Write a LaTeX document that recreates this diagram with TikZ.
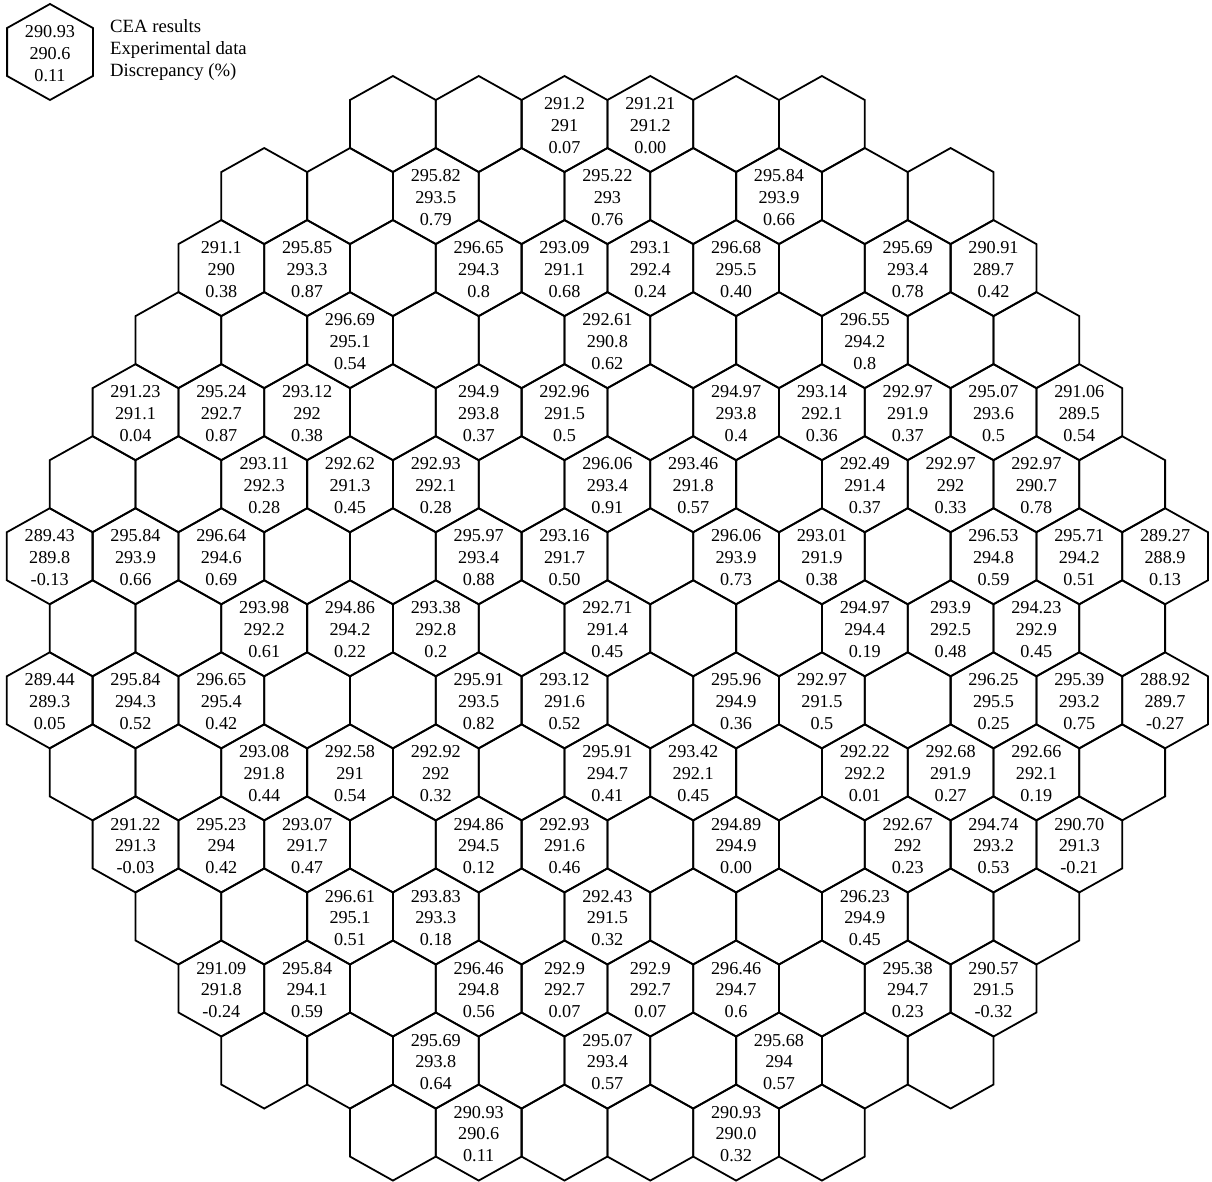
\documentclass[tikz,border=0pt]{standalone}
\usepackage{fontspec}
\setmainfont{Liberation Serif}
\begin{document}
\begin{tikzpicture}[x=1pt,y=-1pt,
  hexline/.style={draw=black,line width=1.8pt},
  lab/.style={align=center,inner sep=0pt,font=\fontsize{18.2}{21.8}\selectfont},
  legtext/.style={align=left,anchor=west,inner sep=0pt,font=\fontsize{18.7}{21.6}\selectfont}]
\useasboundingbox (0,0) rectangle (1212,1182);
\def\hexat#1#2{\draw[hexline] (#1,#2) ++(0,-48) -- ++(42.9,24) -- ++(0,48) -- ++(-42.9,24) -- ++(-42.9,-24) -- ++(0,-48) -- cycle;}
% grid of hexagons
\foreach \r/\a/\b in {0/8/18,1/5/21,2/4/22,3/3/23,4/2/24,5/1/25,6/0/26,7/1/25,8/0/26,9/1/25,10/2/24,11/3/23,12/4/22,13/5/21,14/8/18} {
  \pgfmathtruncatemacro\cc{\a+2}
  \foreach \h in {\a,\cc,...,\b} {
    \pgfmathsetmacro\xx{49.7+42.9*\h}
    \pgfmathsetmacro\yy{124+72.04*\r}
    \hexat{\xx}{\yy}
  }
}
% labels
\foreach \r/\h/\p/\q/\s in {
 0/12/291.2/291/0.07, 0/14/291.21/291.2/0.00,
 1/9/295.82/293.5/0.79, 1/13/295.22/293/0.76, 1/17/295.84/293.9/0.66,
 2/4/291.1/290/0.38, 2/6/295.85/293.3/0.87, 2/10/296.65/294.3/0.8, 2/12/293.09/291.1/0.68,
 2/14/293.1/292.4/0.24, 2/16/296.68/295.5/0.40, 2/20/295.69/293.4/0.78, 2/22/290.91/289.7/0.42,
 3/7/296.69/295.1/0.54, 3/13/292.61/290.8/0.62, 3/19/296.55/294.2/0.8,
 4/2/291.23/291.1/0.04, 4/4/295.24/292.7/0.87, 4/6/293.12/292/0.38, 4/10/294.9/293.8/0.37,
 4/12/292.96/291.5/0.5, 4/16/294.97/293.8/0.4, 4/18/293.14/292.1/0.36, 4/20/292.97/291.9/0.37,
 4/22/295.07/293.6/0.5, 4/24/291.06/289.5/0.54,
 5/5/293.11/292.3/0.28, 5/7/292.62/291.3/0.45, 5/9/292.93/292.1/0.28, 5/13/296.06/293.4/0.91,
 5/15/293.46/291.8/0.57, 5/19/292.49/291.4/0.37, 5/21/292.97/292/0.33, 5/23/292.97/290.7/0.78,
 6/0/289.43/289.8/-0.13, 6/2/295.84/293.9/0.66, 6/4/296.64/294.6/0.69, 6/10/295.97/293.4/0.88,
 6/12/293.16/291.7/0.50, 6/16/296.06/293.9/0.73, 6/18/293.01/291.9/0.38, 6/22/296.53/294.8/0.59,
 6/24/295.71/294.2/0.51, 6/26/289.27/288.9/0.13,
 7/5/293.98/292.2/0.61, 7/7/294.86/294.2/0.22, 7/9/293.38/292.8/0.2, 7/13/292.71/291.4/0.45,
 7/19/294.97/294.4/0.19, 7/21/293.9/292.5/0.48, 7/23/294.23/292.9/0.45,
 8/0/289.44/289.3/0.05, 8/2/295.84/294.3/0.52, 8/4/296.65/295.4/0.42, 8/10/295.91/293.5/0.82,
 8/12/293.12/291.6/0.52, 8/16/295.96/294.9/0.36, 8/18/292.97/291.5/0.5, 8/22/296.25/295.5/0.25,
 8/24/295.39/293.2/0.75, 8/26/288.92/289.7/-0.27,
 9/5/293.08/291.8/0.44, 9/7/292.58/291/0.54, 9/9/292.92/292/0.32, 9/13/295.91/294.7/0.41,
 9/15/293.42/292.1/0.45, 9/19/292.22/292.2/0.01, 9/21/292.68/291.9/0.27, 9/23/292.66/292.1/0.19,
 10/2/291.22/291.3/-0.03, 10/4/295.23/294/0.42, 10/6/293.07/291.7/0.47, 10/10/294.86/294.5/0.12,
 10/12/292.93/291.6/0.46, 10/16/294.89/294.9/0.00, 10/20/292.67/292/0.23, 10/22/294.74/293.2/0.53,
 10/24/290.70/291.3/-0.21,
 11/7/296.61/295.1/0.51, 11/9/293.83/293.3/0.18, 11/13/292.43/291.5/0.32, 11/19/296.23/294.9/0.45,
 12/4/291.09/291.8/-0.24, 12/6/295.84/294.1/0.59, 12/10/296.46/294.8/0.56, 12/12/292.9/292.7/0.07,
 12/14/292.9/292.7/0.07, 12/16/296.46/294.7/0.6, 12/20/295.38/294.7/0.23, 12/22/290.57/291.5/-0.32,
 13/9/295.69/293.8/0.64, 13/13/295.07/293.4/0.57, 13/17/295.68/294/0.57,
 14/10/290.93/290.6/0.11, 14/16/290.93/290.0/0.32} {
  \pgfmathsetmacro\xx{49.7+42.9*\h}
  \pgfmathsetmacro\yy{124+72.04*\r+1.5}
  \node[lab] (n\r-\h) at (\xx,\yy) {\p\\\q\\\s};
}
% legend
\hexat{50}{52}
\node[lab] (leghex) at (50,53.5) {290.93\\290.6\\0.11};
\node[legtext] (legtxt) at (110,50) {CEA results\\Experimental data\\Discrepancy (\%)};
\end{tikzpicture}
\end{document}
